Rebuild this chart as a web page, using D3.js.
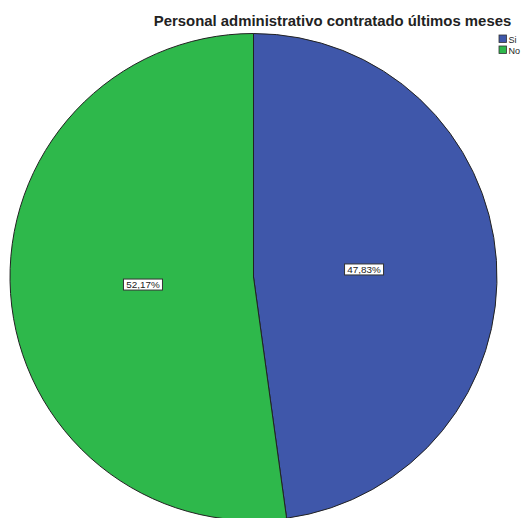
<!DOCTYPE html>
<html><head><meta charset="utf-8">
<script src="https://cdn.jsdelivr.net/npm/d3@7"></script>
<style>body{margin:0;background:#fff}svg{display:block}</style>
</head><body>
<script>
const categories = ["Si", "No"];
const values = [47.83, 52.17];
const labels = ["47,83%", "52,17%"];
const colors = ["#3F57AA", "#2EB84B"];
const title = "Personal administrativo contratado últimos meses";

const W = 523, H = 518;
const cx = 253.5, cy = 277, R = 243.5;
const svg = d3.select("body").append("svg").attr("width", W).attr("height", H);

const data = categories.map((c, i) => ({cat: c, value: values[i], label: labels[i], color: colors[i]}));
const pie = d3.pie().sort(null).value(d => d.value);
const arc = d3.arc().innerRadius(0).outerRadius(R);
const labelArc = d3.arc().innerRadius(R * 0.455).outerRadius(R * 0.455);
const arcs = pie(data);

const g = svg.append("g").attr("transform", `translate(${cx},${cy})`);
g.selectAll("path").data(arcs).enter().append("path")
  .attr("d", arc).attr("fill", d => d.data.color)
  .attr("stroke", "#222").attr("stroke-width", 1);

const lg = g.selectAll("g.lbl").data(arcs).enter().append("g").attr("class", "lbl")
  .attr("transform", d => { const [x, y] = labelArc.centroid(d); return `translate(${x},${y})`; });
lg.append("rect").attr("x", -19.5).attr("y", -5.5).attr("width", 39).attr("height", 11)
  .attr("fill", "#fff").attr("stroke", "#333").attr("stroke-width", 1);
lg.append("text").text(d => d.data.label).attr("text-anchor", "middle").attr("y", 3.6)
  .attr("font-family", "Liberation Sans, Arial, sans-serif").attr("font-size", 9.9).attr("fill", "#222");

svg.append("text").text(title).attr("x", 332.5).attr("y", 26).attr("text-anchor", "middle")
  .attr("font-family", "Liberation Sans, Arial, sans-serif").attr("font-weight", "bold")
  .attr("font-size", 14.9).attr("fill", "#222");

const leg = svg.selectAll("g.leg").data(data).enter().append("g").attr("class", "leg")
  .attr("transform", (d, i) => `translate(499,${35 + i * 11})`);
leg.append("rect").attr("width", 7.5).attr("height", 7.5).attr("fill", d => d.color)
  .attr("stroke", "#333").attr("stroke-width", 0.8);
leg.append("text").text(d => d.cat).attr("x", 9.5).attr("y", 7.5)
  .attr("font-family", "Liberation Sans, Arial, sans-serif").attr("font-size", 9).attr("fill", "#222");
</script>
</body></html>
